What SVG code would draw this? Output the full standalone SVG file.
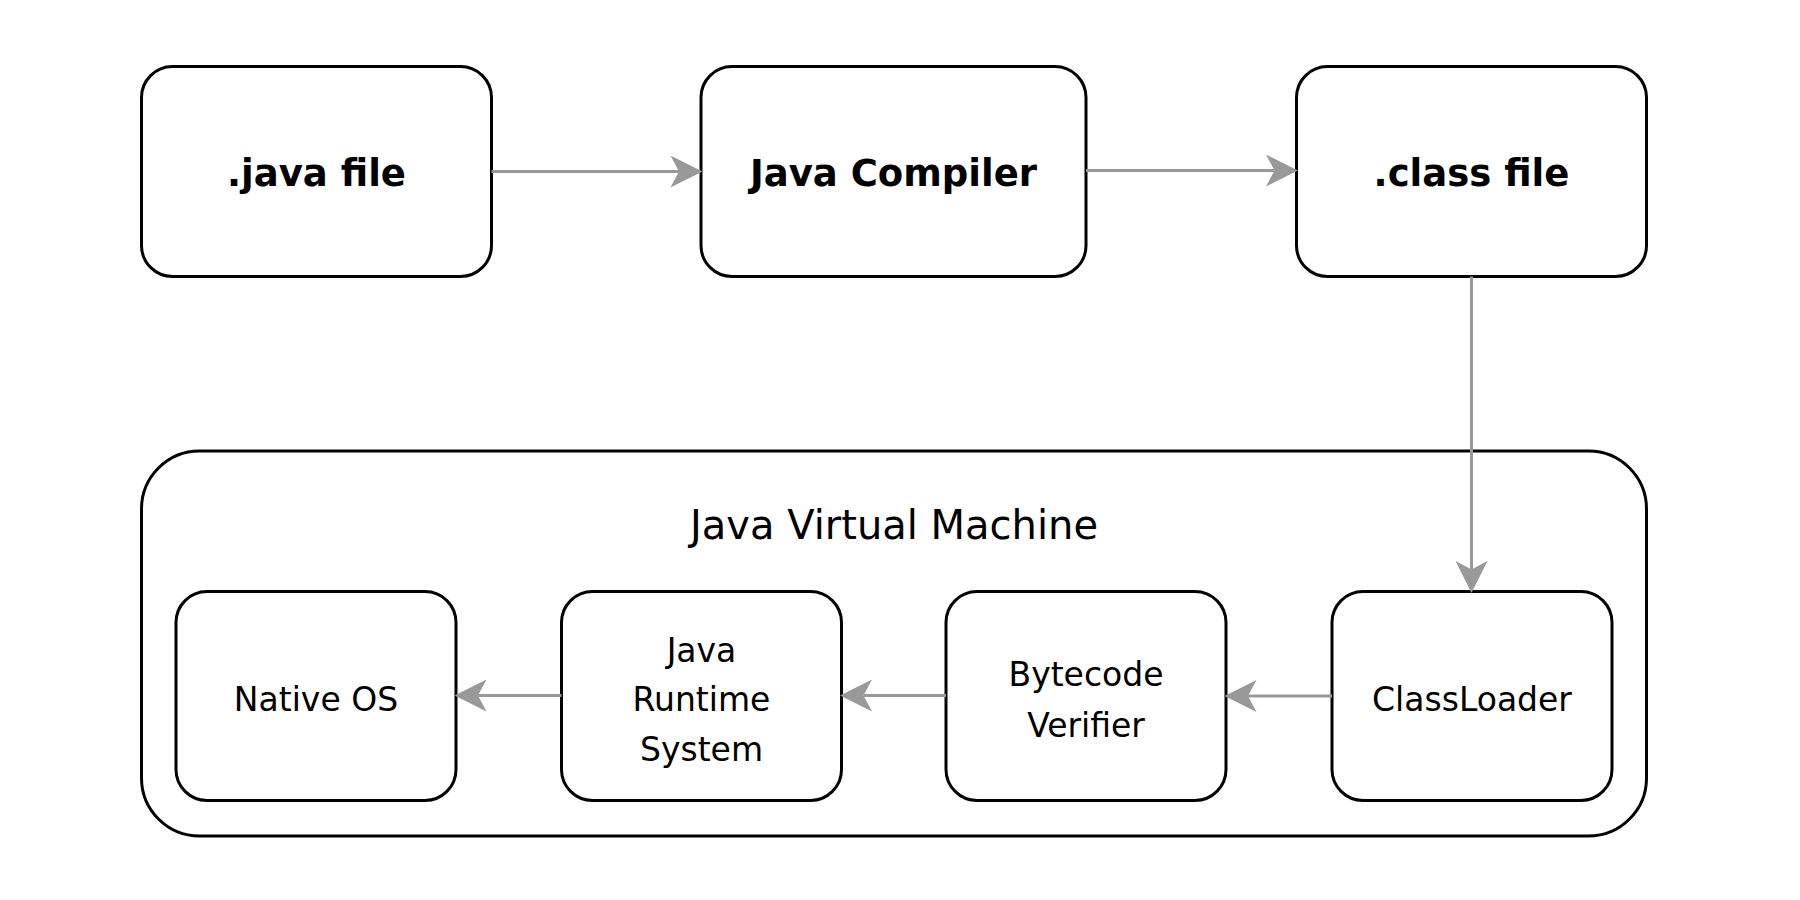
<svg xmlns="http://www.w3.org/2000/svg" width="1800" height="900" viewBox="0 0 1800 900">
  <style>
    .box { fill: #ffffff; stroke: #000000; stroke-width: 3; }
    .lbl { font-family: "DejaVu Sans", "Liberation Sans", sans-serif; fill: #000000; text-anchor: middle; }
    .big { font-size: 37px; font-weight: bold; }
    .title { font-size: 40px; }
    .small { font-size: 33px; }
    .edge { fill: none; stroke: #999999; stroke-width: 3; }
  </style>
  <defs>
    <marker id="arrow" markerUnits="userSpaceOnUse" markerWidth="32" markerHeight="32" viewBox="0 0 30 30" refX="8" refY="15" orient="auto">
      <path d="M0,0 L30,15 L0,30 L8,15 Z" fill="#999999"/>
    </marker>
  </defs>
  <rect width="1800" height="900" fill="#ffffff"/>

  <g id="jvm">
    <rect class="box" x="141.5" y="451" width="1505" height="385" rx="58" ry="58"/>
    <text class="lbl title" x="894" y="539">Java Virtual Machine</text>
  </g>

  <g id="java-file">
    <rect class="box" x="141.5" y="66.5" width="350" height="210" rx="31" ry="31"/>
    <text class="lbl big" x="316.5" y="186">.java file</text>
  </g>
  <g id="java-compiler">
    <rect class="box" x="701" y="66.5" width="385" height="210" rx="31" ry="31"/>
    <text class="lbl big" x="893.5" y="186">Java Compiler</text>
  </g>
  <g id="class-file">
    <rect class="box" x="1296.5" y="66.5" width="350" height="210" rx="31" ry="31"/>
    <text class="lbl big" x="1471.5" y="186">.class file</text>
  </g>

  <g id="native-os">
    <rect class="box" x="176" y="591.5" width="280" height="209" rx="31" ry="31"/>
    <text class="lbl small" x="316" y="711">Native OS</text>
  </g>
  <g id="java-runtime-system">
    <rect class="box" x="561.5" y="591.5" width="280" height="209" rx="31" ry="31"/>
    <text class="lbl small" x="701.5" y="662">Java</text>
    <text class="lbl small" x="701.5" y="711">Runtime</text>
    <text class="lbl small" x="701.5" y="761">System</text>
  </g>
  <g id="bytecode-verifier">
    <rect class="box" x="946" y="591.5" width="280" height="209" rx="31" ry="31"/>
    <text class="lbl small" x="1086" y="686">Bytecode</text>
    <text class="lbl small" x="1086" y="737">Verifier</text>
  </g>
  <g id="classloader">
    <rect class="box" x="1332" y="591.5" width="280" height="209" rx="31" ry="31"/>
    <text class="lbl small" x="1472" y="711">ClassLoader</text>
  </g>

  <g id="connectors">
    <line class="edge" x1="491.5" y1="171.5" x2="679" y2="171.5" marker-end="url(#arrow)"/>
    <line class="edge" x1="1086" y1="170.5" x2="1274.5" y2="170.5" marker-end="url(#arrow)"/>
    <line class="edge" x1="1471.5" y1="276.5" x2="1471.5" y2="569.5" marker-end="url(#arrow)"/>
    <line class="edge" x1="1332" y1="696" x2="1248" y2="696" marker-end="url(#arrow)"/>
    <line class="edge" x1="946" y1="695.5" x2="863.5" y2="695.5" marker-end="url(#arrow)"/>
    <line class="edge" x1="561.5" y1="695.5" x2="478" y2="695.5" marker-end="url(#arrow)"/>
  </g>
</svg>
